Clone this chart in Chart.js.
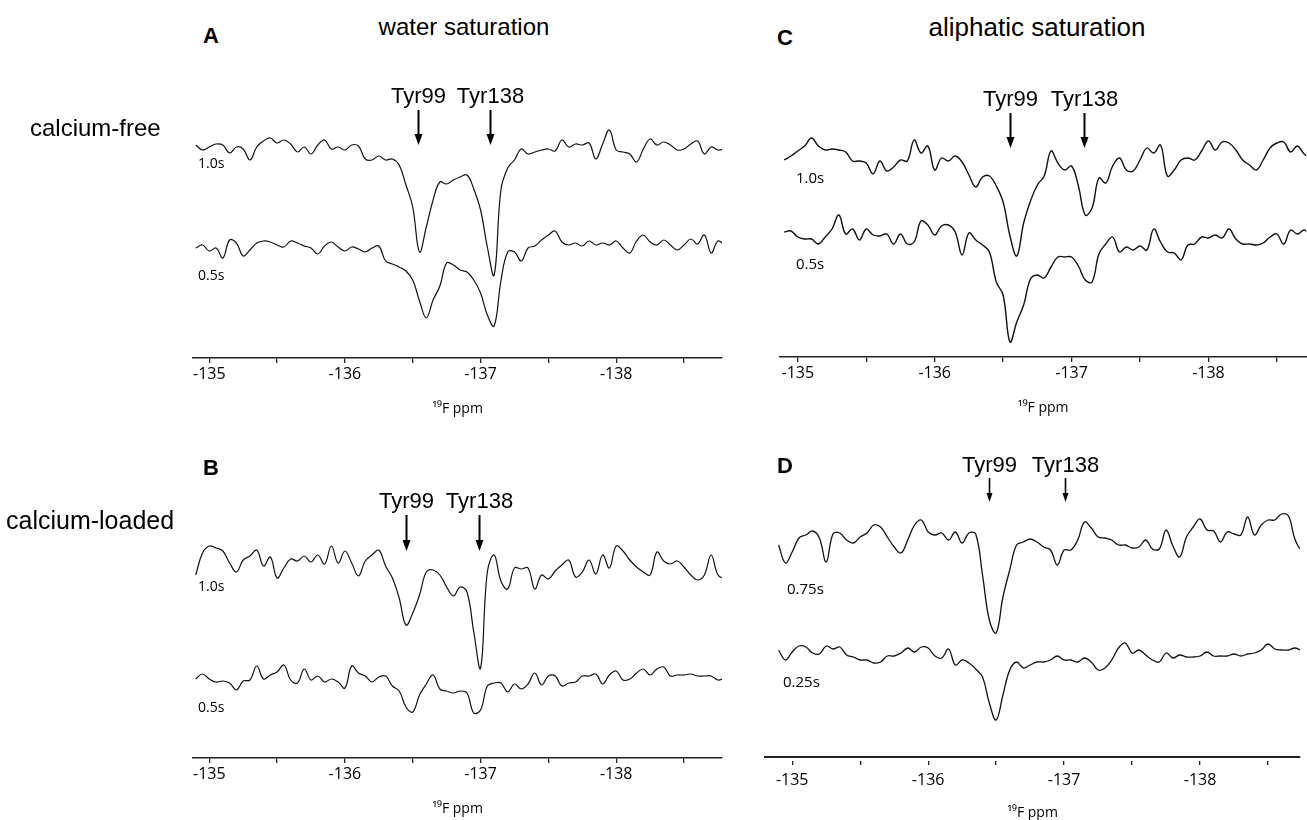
<!DOCTYPE html>
<html lang="en">
<head>
<meta charset="UTF-8">
<title>19F saturation transfer spectra</title>
<script src="https://cdn.jsdelivr.net/npm/chart.js"></script>
<style>
    body { margin: 0; width: 1307px; height: 820px; position: relative; overflow: hidden; background: #fff;
           font-family: "Liberation Sans", Arial, sans-serif; color: #000; }
    .panel { position: absolute; }
    .txt { position: absolute; white-space: nowrap; line-height: 1; }
    .mid { transform: translate(-50%, -50%); }
    .left { transform: translateY(-50%); }
</style>
</head>
<body>
<script>
// chemical shift grid shared by every trace (ppm)
const ppm = [
    -134.90,-134.95,-135.00,-135.05,-135.10,-135.15,-135.20,-135.25,-135.30,-135.35,
    -135.40,-135.45,-135.50,-135.55,-135.60,-135.65,-135.70,-135.75,-135.80,-135.85,
    -135.90,-135.95,-136.00,-136.05,-136.10,-136.15,-136.20,-136.25,-136.30,-136.35,
    -136.40,-136.45,-136.50,-136.55,-136.60,-136.65,-136.70,-136.75,-136.80,-136.85,
    -136.90,-136.95,-137.00,-137.05,-137.10,-137.15,-137.20,-137.25,-137.30,-137.35,
    -137.40,-137.45,-137.50,-137.55,-137.60,-137.65,-137.70,-137.75,-137.80,-137.85,
    -137.90,-137.95,-138.00,-138.05,-138.10,-138.15,-138.20,-138.25,-138.30,-138.35,
    -138.40,-138.45,-138.50,-138.55,-138.60,-138.65,-138.70,-138.75,-138.80
];
const tickValues = [-135, -135.5, -136, -136.5, -137, -137.5, -138, -138.5];
const peakNames = ['Tyr99', 'Tyr138'];

// intensities (arbitrary units, baseline = 0)
// A: water saturation, calcium-free
const waterFree10 = [2,-3,0,3,2,-6,0,-2,-13,0, 6,9,4,7,3,-5,0,-7,2,7, -2,0,-3,2,1,-12,-13,-9,-13,-12,
    -18,-38,-60,-105,-80,-53,-35,-37,-33,-30, -28,-42,-63,-100,-128,-43,-21,-13,-2,-7,
    -5,-3,-2,-4,7,0,3,2,4,-12, 3,17,-3,-5,-7,-15,-2,8,2,5, 2,-3,-2,3,6,-7,0,-3,-2];
const waterFree05 = [0,3,-3,0,-10,8,5,-8,-2,5, 7,6,3,1,7,5,2,0,-6,2, 6,1,-3,1,-1,-4,0,2,-13,-16,
    -19,-23,-32,-53,-70,-52,-38,-15,-17,-22, -24,-32,-45,-67,-78,-33,-4,-4,-13,0,
    2,8,13,17,6,3,5,2,7,3, 5,3,7,0,-5,7,13,6,3,8, 3,-2,3,9,4,13,-5,7,3];
// B: water saturation, calcium-loaded
const waterLoaded10 = [-17,5,12,10,7,-5,-14,-2,2,8, -8,1,-20,-10,-1,-3,2,-4,3,-6, 12,-5,7,-5,-18,-3,3,8,-8,-20,
    -40,-67,-55,-37,-14,-12,-17,-29,-38,-29, -34,-74,-110,-14,3,-23,-31,-10,-11,-10,
    -31,-17,-21,-13,-7,-2,-19,-14,-2,-16, 3,-10,12,7,-2,-9,-14,-17,6,-3, -6,-3,-9,-17,-22,-17,3,-17,-21];
const waterLoaded05 = [0,5,0,-3,-2,-4,-11,-2,-1,13, 0,4,7,14,-1,-4,10,-1,3,-3, 0,-3,-9,13,6,3,-3,2,3,-7,
    -12,-28,-33,-16,-5,4,-10,-12,-14,-12, -14,-34,-31,-7,-4,-4,-13,-5,-10,-5,
    6,-6,3,3,-7,-4,-3,3,3,5, -5,4,8,-1,0,6,10,4,10,12, 3,4,4,5,3,3,3,-1,1];
// C: aliphatic saturation, calcium-free
const aliphFree10 = [-7,-3,2,7,15,7,3,4,3,1, -8,-8,-10,-21,-8,-18,-14,-7,-8,13, 0,7,-17,-5,-8,-3,-9,-22,-34,-24,
    -23,-33,-49,-83,-103,-70,-48,-32,-23,2, -10,-17,-13,-33,-62,-55,-25,-30,-13,-5,
    -17,-18,-7,5,0,8,-23,-17,-7,-5, -7,2,12,3,11,10,3,-7,-12,-17, -7,5,10,11,1,7,-1,-5,-3];
const aliphFree05 = [5,6,0,-2,-2,-7,0,8,22,3, 8,-3,8,2,1,3,-7,3,-7,-5, 16,12,2,11,12,5,-18,4,-3,-8,
    -15,-45,-58,-105,-85,-68,-42,-38,-41,-30, -20,-20,-20,-29,-43,-45,-17,-7,0,-15,
    -10,-13,-9,-13,8,-5,-15,-16,-23,-8, -7,0,-1,2,-1,8,-2,-7,-7,-8, -6,0,3,-7,7,3,7,2,3];
// D: aliphatic saturation, calcium-loaded
const aliphLoaded075 = [-5,-23,-12,2,5,9,2,-22,6,7, 0,-3,3,7,15,13,3,-7,-13,0, 15,20,8,5,7,0,8,-3,7,6,
    -35,-80,-93,-57,-30,-5,-2,1,-2,-7, -10,-25,-10,-10,0,18,12,3,2,0,
    -5,-5,-8,-7,0,-9,-9,10,-6,-17, 3,13,21,10,9,-2,8,6,5,23, 5,15,20,20,26,24,0,-10,-3];
const aliphLoaded025 = [3,-7,1,7,6,0,-1,7,4,6, -2,-4,-7,-7,-10,-9,-3,-3,0,5, 1,6,5,-3,-5,4,-12,-7,-10,-16,
    -24,-50,-67,-42,-17,-9,-15,-12,-9,-9, -7,-3,-7,-7,-9,-5,-9,-17,-15,-7,
    5,10,0,3,-2,-7,-9,0,-5,-2, -4,-4,-3,1,-3,-3,-3,-1,-3,-1, 0,3,9,4,3,3,5,2,0];

// arrow positions (ppm)
const peaksA = [-136.54, -137.07];
const peaksB = [-136.45, -136.99];
const peaksC = [-136.55, -137.09];
const peaksD = [-136.45, -137.01];

// layout of the four panels (page pixels)
const panels = [
    { left: 150, width: 600, height: 360, axisY: 358, xMax: -134.88, xMin: -138.78, padL: 43, padR: 28,
      traces: [waterFree10, waterFree05], base: [147, 248], lw: 1.2, peaks: peaksA,
      labelY: 97, arrowTop: 110, arrowTip: 145, head: [8, 11], shaft: 2, tick: 5, tickPad: 2, titlePad: 14, axisW: 1.5, gap: 0 },
    { left: 150, width: 600, height: 360, axisY: 758, xMax: -134.88, xMin: -138.78, padL: 43, padR: 28,
      traces: [waterLoaded10, waterLoaded05], base: [558, 679], lw: 1.2, peaks: peaksB,
      labelY: 502, arrowTop: 515, arrowTip: 551, head: [8, 11], shaft: 2, tick: 5, tickPad: 2, titlePad: 14, axisW: 1.5, gap: 0 },
    { left: 740, width: 567, height: 360, axisY: 357, xMax: -134.87, xMin: -138.715, padL: 40, padR: 0,
      traces: [aliphFree10, aliphFree05], base: [153, 237], lw: 1.4, peaks: peaksC,
      labelY: 100, arrowTop: 113, arrowTip: 148, head: [8, 11], shaft: 2, tick: 5, tickPad: 2, titlePad: 14, axisW: 1.5, gap: 0 },
    { left: 740, width: 567, height: 370, axisY: 757, xMax: -134.80, xMin: -138.735, padL: 25, padR: 7,
      traces: [aliphLoaded075, aliphLoaded025], base: [540, 653], lw: 1.3, peaks: peaksD,
      labelY: 466, arrowTop: 478, arrowTip: 502, head: [6, 9], shaft: 1.6, tick: 8, tickPad: 6, titlePad: 8, axisW: 2, gap: 3 }
];

function buildPanel(p) {
    const wrap = document.createElement('div');
    wrap.className = 'panel';
    wrap.style.left = p.left + 'px';
    wrap.style.top = '0px';
    const cv = document.createElement('canvas');
    cv.width = p.width;
    cv.height = p.height;
    wrap.appendChild(cv);
    document.body.appendChild(wrap);

    const arrows = {
        id: 'peakArrows',
        afterDraw(chart) {
            const ctx = chart.ctx;
            const xs = chart.scales.x;
            const yy = v => chart.chartArea.bottom - (p.axisY - v);
            ctx.save();
            ctx.fillStyle = '#000';
            ctx.strokeStyle = '#000';
            ctx.font = '22px "Liberation Sans", Arial, sans-serif';
            ctx.textAlign = 'center';
            ctx.textBaseline = 'middle';
            peakNames.forEach((name, k) => {
                const x = Math.round(xs.getPixelForValue(p.peaks[k])) + 0.5;
                const tip = yy(p.arrowTip);
                ctx.fillText(name, x, yy(p.labelY));
                ctx.lineWidth = p.shaft;
                ctx.beginPath();
                ctx.moveTo(x, yy(p.arrowTop));
                ctx.lineTo(x, tip - p.head[1] + 1);
                ctx.stroke();
                ctx.beginPath();
                ctx.moveTo(x - p.head[0] / 2, tip - p.head[1]);
                ctx.lineTo(x + p.head[0] / 2, tip - p.head[1]);
                ctx.lineTo(x, tip);
                ctx.closePath();
                ctx.fill();
            });
            ctx.restore();
        }
    };

    const chart = new Chart(cv, {
        type: 'line',
        data: {
            datasets: p.traces.map((t, k) => ({
                data: ppm.map((x, i) => ({ x: x, y: p.axisY - p.base[k] + t[i] })),
                borderColor: '#111',
                borderWidth: p.lw,
                pointRadius: 0,
                tension: 0.4,
                fill: false
            }))
        },
        options: {
            responsive: false,
            animation: false,
            events: [],
            layout: { padding: { left: p.padL, right: p.padR, top: 20, bottom: 0 } },
            plugins: { legend: { display: false }, tooltip: { enabled: false } },
            scales: {
                x: {
                    type: 'linear',
                    reverse: true,
                    min: p.xMin,
                    max: p.xMax,
                    afterBuildTicks: s => { s.ticks = tickValues.map(v => ({ value: v })); },
                    ticks: {
                        autoSkip: false,
                        maxRotation: 0,
                        padding: p.tickPad,
                        color: '#000',
                        font: { family: '"Open Sans", "Noto Sans", sans-serif', size: 16 },
                        callback: v => Number.isInteger(v) ? String(v) : ''
                    },
                    grid: {
                        drawOnChartArea: false,
                        drawTicks: true,
                        tickLength: p.tick,
                        color: '#222',
                        lineWidth: 1.3,
                        tickBorderDash: p.gap ? [p.tick - p.gap, 100] : [],
                        tickBorderDashOffset: p.gap ? 100 + (p.tick - p.gap) - p.gap : 0
                    },
                    border: { display: true, color: '#222', width: p.axisW },
                    title: {
                        display: true,
                        text: '\u00B9\u2079F ppm',
                        color: '#000',
                        font: { family: '"Open Sans", "Noto Sans", sans-serif', size: 14 },
                        padding: { top: p.titlePad, bottom: 0 }
                    }
                },
                y: { display: false, min: 0, max: 300 }
            }
        },
        plugins: [arrows]
    });

    // one data unit per pixel, and put the axis line where it sits on the page
    chart.options.scales.y.max = chart.chartArea.bottom - chart.chartArea.top;
    chart.update('none');
    wrap.style.top = (p.axisY - chart.chartArea.bottom) + 'px';
}

panels.forEach(buildPanel);

// text around the charts
const texts = [
    { t: 'water saturation', x: 464, y: 27, size: 24, cls: 'mid' },
    { t: 'aliphatic saturation', x: 1037, y: 27, size: 26, cls: 'mid' },
    { t: 'A', x: 203, y: 36, size: 22, bold: true, cls: 'left' },
    { t: 'B', x: 203, y: 468, size: 22, bold: true, cls: 'left' },
    { t: 'C', x: 777, y: 38, size: 22, bold: true, cls: 'left' },
    { t: 'D', x: 777, y: 466, size: 22, bold: true, cls: 'left' },
    { t: 'calcium-free', x: 30, y: 128, size: 24, cls: 'left' },
    { t: 'calcium-loaded', x: 6, y: 520, size: 25, cls: 'left' },
    { t: '1.0s', x: 198, y: 163, size: 14, sans: true, cls: 'left' },
    { t: '0.5s', x: 198, y: 275, size: 14, sans: true, cls: 'left' },
    { t: '1.0s', x: 198, y: 586, size: 14, sans: true, cls: 'left' },
    { t: '0.5s', x: 198, y: 707, size: 14, sans: true, cls: 'left' },
    { t: '1.0s', x: 796, y: 177, size: 15, sans: true, cls: 'left' },
    { t: '0.5s', x: 796, y: 263, size: 15, sans: true, cls: 'left' },
    { t: '0.75s', x: 787, y: 588, size: 15, sans: true, cls: 'left' },
    { t: '0.25s', x: 783, y: 681, size: 15, sans: true, cls: 'left' }
];
texts.forEach(o => {
    const d = document.createElement('div');
    d.className = 'txt ' + o.cls;
    d.textContent = o.t;
    d.style.left = o.x + 'px';
    d.style.top = o.y + 'px';
    d.style.fontSize = o.size + 'px';
    if (o.bold) d.style.fontWeight = 'bold';
    if (o.sans) d.style.fontFamily = '"Open Sans", "Noto Sans", sans-serif';
    document.body.appendChild(d);
});
</script>
</body>
</html>
